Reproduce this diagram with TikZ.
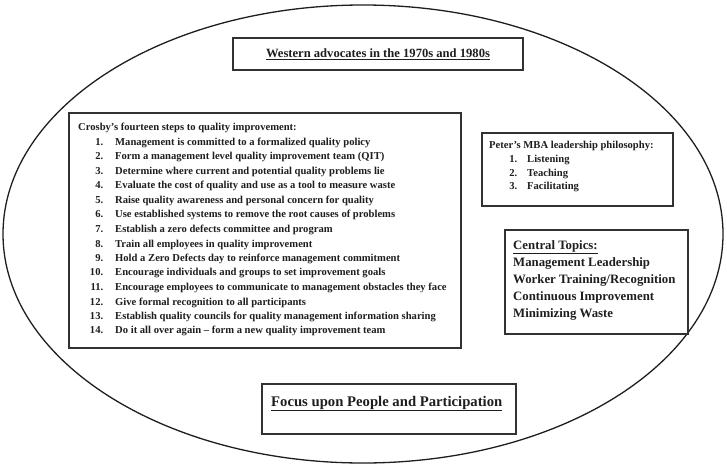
\documentclass[tikz,border=0pt]{standalone}
\usepackage{fontspec}
\setmainfont{Liberation Serif}
\usepackage{xcolor}
\usepackage{tikz}
\usetikzlibrary{positioning}
\definecolor{primary}{RGB}{30, 30, 30}
\definecolor{frame}{RGB}{50, 50, 50}
\tikzset{
  box/.style={draw=frame,line width=1.6pt,inner sep=0pt},
  txt/.style={anchor=base west,inner sep=0pt,text=primary}
}

\begin{document}
\begin{tikzpicture}[x=1pt,y=-1pt,font=\bfseries]
\useasboundingbox (0,0) rectangle (727,465);
\coordinate (O) at (363,234);
\draw[primary,line width=1.3pt] (O) ellipse[x radius=360pt,y radius=229pt];
\node[box,minimum width=290pt,minimum height=32pt,text=primary] (west) at (378,54)
  {\fontsize{12.6}{14}\selectfont\underline{Western advocates in the 1970s and 1980s}};
\node[box,anchor=north west,minimum width=392pt,minimum height=235pt] (crosby) at (68,112) {};
\node[txt] (crosbylist) at (78,131) {\fontsize{10.6}{14.5}\selectfont
  \begin{tabular}[t]{@{}r@{\hspace{12pt}}l@{}}
  \multicolumn{2}{@{}l@{}}{Crosby's fourteen steps to quality improvement:}\\
  \makebox[25pt][r]{1.} & Management is committed to a formalized quality policy\\
  2. & Form a management level quality improvement team (QIT)\\
  3. & Determine where current and potential quality problems lie\\
  4. & Evaluate the cost of quality and use as a tool to measure waste\\
  5. & Raise quality awareness and personal concern for quality\\
  6. & Use established systems to remove the root causes of problems\\
  7. & Establish a zero defects committee and program\\
  8. & Train all employees in quality improvement\\
  9. & Hold a Zero Defects day to reinforce management commitment\\
  10. & Encourage individuals and groups to set improvement goals\\
  11. & Encourage employees to communicate to management obstacles they face\\
  12. & Give formal recognition to all participants\\
  13. & Establish quality councils for quality management information sharing\\
  14. & Do it all over again -- form a new quality improvement team
  \end{tabular}};
\node[box,anchor=north west,minimum width=191pt,minimum height=73pt] (peter) at (481,132) {};
\node[txt] (peterlist) at (489,149) {\fontsize{10.6}{14}\selectfont
  \begin{tabular}[t]{@{}r@{\hspace{10pt}}l@{}}
  \multicolumn{2}{@{}l@{}}{Peter's MBA leadership philosophy:}\\
  \makebox[28pt][r]{1.} & Listening\\
  2. & Teaching\\[-2pt]
  3. & Facilitating
  \end{tabular}};
\node[box,anchor=north west,minimum width=183pt,minimum height=104pt] (central) at (504,229) {};
\node[txt] (centrallist) at (513,249) {\fontsize{12.8}{17}\selectfont
  \begin{tabular}[t]{@{}l@{}}
  \underline{Central Topics:}\\
  Management Leadership\\
  Worker Training/Recognition\\
  Continuous Improvement\\
  Minimizing Waste
  \end{tabular}};
\node[box,anchor=north west,minimum width=254pt,minimum height=50pt] (focus) at (261,383) {};
\node[txt] (focustext) at (271,406) {\fontsize{14.7}{16}\selectfont\underline{Focus upon People and Participation}};
\end{tikzpicture}
\end{document}
